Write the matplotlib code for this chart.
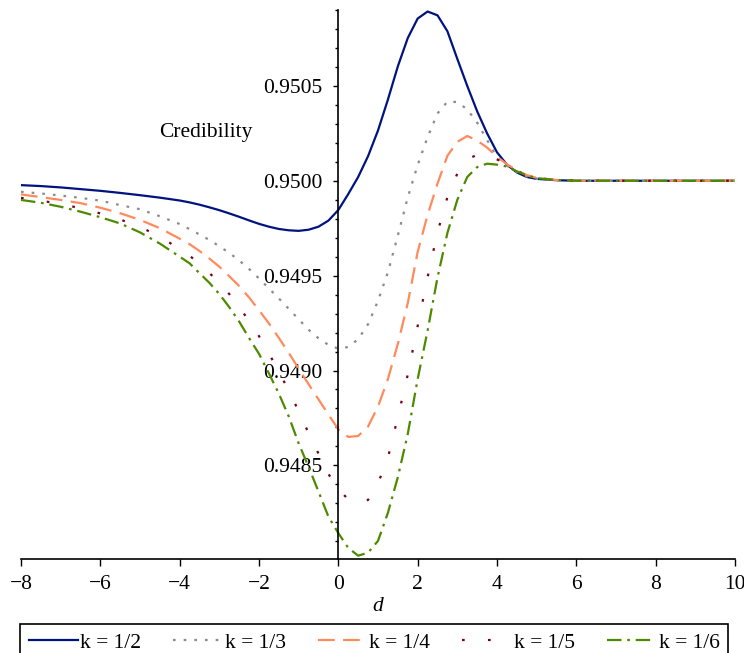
import matplotlib
matplotlib.use('Agg')
import matplotlib.pyplot as plt
from matplotlib.ticker import MultipleLocator, FormatStrFormatter

plt.rcParams['font.family'] = ['Liberation Serif', 'DejaVu Serif']
plt.rcParams['font.size'] = 15.5

# значения d, в которых сняты точки с картинки
d = [-8, -7.5, -7, -6.5, -6, -5.5, -5, -4.5,
     -4, -3.75, -3.5, -3.25, -3, -2.75, -2.5, -2.25, -2, -1.75, -1.5, -1.25,
     -1, -0.75, -0.5, -0.25, 0, 0.25, 0.5, 0.75, 1, 1.25, 1.5, 1.75,
     2, 2.25, 2.5, 2.75, 3, 3.25, 3.5, 3.75, 4, 4.25, 4.5, 4.75, 5,
     5.5, 6, 7, 8, 9, 10]

k_2 = [0.949977, 0.949972, 0.949965, 0.949956, 0.949947, 0.949936, 0.949924, 0.949911,
       0.949896, 0.949886, 0.949874, 0.949860, 0.949845, 0.949828, 0.949810, 0.949791,
       0.949773, 0.949758, 0.949746, 0.949739, 0.949736, 0.949742, 0.949758, 0.949790,
       0.949846, 0.949930, 0.950020, 0.950130, 0.950265, 0.950428, 0.950603, 0.950752,
       0.950855, 0.950892, 0.950872, 0.950788, 0.950642, 0.950500, 0.950366, 0.950250,
       0.950150, 0.950085, 0.950044, 0.950020, 0.950010,
       0.950003, 0.950000, 0.950000, 0.950000, 0.950000, 0.950000]

k_3 = [0.949942, 0.949933, 0.949922, 0.949910, 0.949895, 0.949872, 0.949850, 0.949813,
       0.949772, 0.949745, 0.949717, 0.949688, 0.949655, 0.949620, 0.949580, 0.949535,
       0.949485, 0.949433, 0.949380, 0.949325, 0.949270, 0.949215, 0.949170, 0.949135,
       0.949115, 0.949124, 0.949165, 0.949244, 0.949367, 0.949518, 0.949711, 0.949912,
       0.950083, 0.950230, 0.950355, 0.950417, 0.950415, 0.950376, 0.950306, 0.950215,
       0.950125, 0.950080, 0.950045, 0.950022, 0.950010,
       0.950003, 0.950000, 0.950000, 0.950000, 0.950000, 0.950000]

k_4 = [0.949928, 0.949914, 0.949899, 0.949882, 0.949858, 0.949829, 0.949794, 0.949750,
       0.949695, 0.949666, 0.949630, 0.949590, 0.949547, 0.949497, 0.949445, 0.949385,
       0.949318, 0.949248, 0.949172, 0.949093, 0.949010, 0.948928, 0.948848, 0.948768,
       0.948690, 0.948650, 0.948655, 0.948705, 0.948810, 0.948955, 0.949140, 0.949355,
       0.949625, 0.949820, 0.949985, 0.950132, 0.950205, 0.950236, 0.950212, 0.950175,
       0.950127, 0.950087, 0.950055, 0.950030, 0.950015,
       0.950004, 0.950000, 0.950000, 0.950000, 0.950000, 0.950000]

k_5 = [0.949910, 0.949895, 0.949878, 0.949855, 0.949828, 0.949796, 0.949757, 0.949706,
       0.949640, 0.949605, 0.949562, 0.949514, 0.949462, 0.949403, 0.949335, 0.949261,
       0.949181, 0.949090, 0.948994, 0.948894, 0.948785, 0.948670, 0.948562, 0.948455,
       0.948372, 0.948322, 0.948298, 0.948318, 0.948405, 0.948540, 0.948753, 0.948978,
       0.949235, 0.949492, 0.949728, 0.949914, 0.950038, 0.950113, 0.950137, 0.950138,
       0.950113, 0.950082, 0.950052, 0.950028, 0.950014,
       0.950004, 0.950000, 0.950000, 0.950000, 0.950000, 0.950000]

k_6 = [0.949899, 0.949884, 0.949863, 0.949837, 0.949808, 0.949775, 0.949728, 0.949669,
       0.949600, 0.949565, 0.949513, 0.949462, 0.949403, 0.949334, 0.949258, 0.949171,
       0.949088, 0.948985, 0.948878, 0.948758, 0.948616, 0.948492, 0.948362, 0.948230,
       0.948143, 0.948065, 0.948024, 0.948040, 0.948102, 0.948250, 0.948438, 0.948665,
       0.948955, 0.949210, 0.949490, 0.949725, 0.949900, 0.950020, 0.950072, 0.950090,
       0.950085, 0.950075, 0.950050, 0.950028, 0.950014,
       0.950004, 0.950000, 0.950000, 0.950000, 0.950000, 0.950000]

labels = ['k = 1/2', 'k = 1/3', 'k = 1/4', 'k = 1/5', 'k = 1/6']

fig = plt.figure(figsize=(7.44, 6.53), dpi=100)
ax = fig.add_axes([21 / 744, 1 - 559.3 / 653, 714 / 744, 549.3 / 653])

ax.plot(d, k_2, color='#00137F', lw=1.6, linestyle='-', label=labels[0])
ax.plot(d, k_3, color='#8C8C8C', lw=1.6, linestyle=(0, (1.2, 3.6)), label=labels[1])
ax.plot(d, k_4, color='#FF8A5C', lw=1.6, linestyle=(0, (7.5, 3.8)), label=labels[2])
ax.plot(d, k_5, color='#7A0018', lw=1.6, linestyle=(0, (1.2, 10.5)), label=labels[3])
ax.plot(d, k_6, color='#4E8A00', lw=1.6, linestyle=(0, (6.5, 2.6, 1.2, 2.6)), label=labels[4])

ax.set_xlim(-8, 10)
ax.set_ylim(0.948005, 0.95090)

ax.spines['top'].set_visible(False)
ax.spines['right'].set_visible(False)
ax.spines['left'].set_position(('data', 0))
ax.spines['left'].set_linewidth(1.2)
ax.spines['bottom'].set_linewidth(1.2)

ax.xaxis.set_major_locator(MultipleLocator(2))
ax.yaxis.set_major_locator(MultipleLocator(0.0005))
ax.yaxis.set_minor_locator(MultipleLocator(0.0001))
ax.yaxis.set_major_formatter(FormatStrFormatter('%.4f'))
ax.tick_params(axis='x', direction='out', length=5, width=1, pad=6.5)
ax.tick_params(axis='y', which='major', direction='out', length=3.5, width=1, pad=8)
ax.tick_params(axis='y', which='minor', direction='out', length=2.5, width=1)

ax.set_xlabel('d', style='italic', labelpad=2)
fig.text(206 / 744, 1 - 132.7 / 653, 'Credibility', ha='center', va='center')

fig.legend(loc='upper left', bbox_to_anchor=(20 / 744, 0, 708 / 744, 1 - 624 / 653),
           ncol=5, mode='expand', borderaxespad=0, handlelength=2.3, handletextpad=0.1,
           fancybox=False, edgecolor='black', framealpha=1, frameon=True)
fig.legends[0].get_frame().set_linewidth(1.2)

fig.savefig('out.png', dpi=100)
